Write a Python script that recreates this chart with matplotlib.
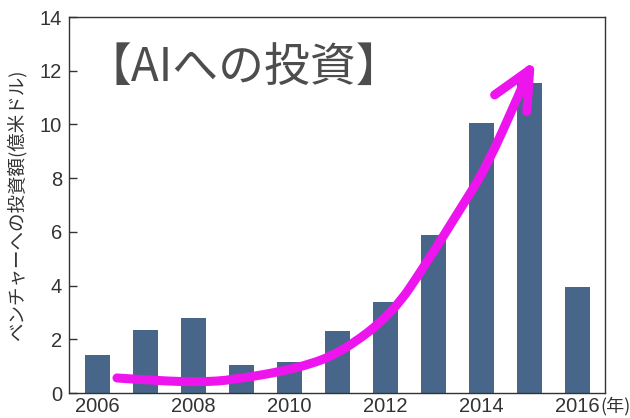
import matplotlib
matplotlib.use('Agg')
from matplotlib import pyplot as plt
from matplotlib.path import Path
from matplotlib.patches import PathPatch

# data
years = [2006, 2007, 2008, 2009, 2010, 2011, 2012, 2013, 2014, 2015, 2016]
invest = [1.42, 2.35, 2.8, 1.04, 1.17, 2.3, 3.4, 5.9, 10.07, 11.53, 3.96]
tick_years = [2006, 2008, 2010, 2012, 2014, 2016]
y_ticks = [0, 2, 4, 6, 8, 10, 12, 14]

# hand-drawn magenta trend arrow (data coords)
arrow_x = [2006.41, 2007.3, 2008.14, 2008.82, 2010.22, 2011.11, 2012.16, 2012.86, 2013.55, 2014.11, 2014.8, 2015.01]
arrow_y = [0.56, 0.45, 0.41, 0.48, 0.93, 1.53, 2.98, 4.84, 6.81, 8.41, 11.17, 12.03]
head_left = (2014.28, 11.1)
head_right = (2014.95, 10.47)

plt.rcParams['font.family'] = ['Liberation Sans', 'Noto Sans CJK JP', 'DejaVu Sans']

fig = plt.figure(figsize=(6.3, 4.18), dpi=100)
ax = fig.add_axes([0.1095, 0.0598, 0.8508, 0.8995])

ax.bar(years, invest, width=0.52, color='#476689', zorder=2)

ax.set_xlim(2005.41, 2016.58)
ax.set_ylim(0, 14)
ax.set_xticks(tick_years)
ax.set_xticklabels([str(y) for y in tick_years])
ax.set_yticks(y_ticks)
ax.tick_params(axis='x', length=0, pad=3, labelsize=14.5, labelcolor='#333333')
ax.tick_params(axis='y', direction='in', length=6, width=1, pad=5,
               labelsize=14.5, labelcolor='#333333', color='#333333')
for s in ax.spines.values():
    s.set_color('#333333')
    s.set_linewidth(1)

ax.annotate('(年)', xy=(2016, 0), xycoords='data', xytext=(16.5, -3),
            textcoords='offset points', ha='left', va='top',
            fontsize=13, color='#333333', family=['Noto Sans CJK JP'],
            annotation_clip=False)

ax.set_ylabel('ベンチャーへの投資額(億米ドル)', family=['Noto Sans CJK JP'],
              fontsize=13.3, color='#333333')
ax.yaxis.set_label_coords(-0.08, 0.5)

# smooth arrow body through the read points (quadratic segments between midpoints)
pts = list(zip(arrow_x, arrow_y))
verts = [pts[0]]
codes = [Path.MOVETO]
for i in range(1, len(pts) - 1):
    mid = ((pts[i][0] + pts[i + 1][0]) / 2, (pts[i][1] + pts[i + 1][1]) / 2)
    if i == len(pts) - 2:
        mid = pts[-1]
    verts += [pts[i], mid]
    codes += [Path.CURVE3, Path.CURVE3]
body = PathPatch(Path(verts, codes), facecolor='none', edgecolor='#EE14EE',
                 lw=6.5, capstyle='round', joinstyle='round', zorder=5)
ax.add_patch(body)
tip = pts[-1]
for wing in (head_left, head_right):
    ax.plot([wing[0], tip[0]], [wing[1], tip[1]], color='#EE14EE', lw=6.5,
            solid_capstyle='round', solid_joinstyle='round', zorder=5)

fig.text(0.135, 0.838, '【AIへの投資】', family=['Noto Sans CJK JP'],
         fontsize=33, color='#4d4d4d', ha='left', va='center')

plt.savefig('out.png', dpi=100)
